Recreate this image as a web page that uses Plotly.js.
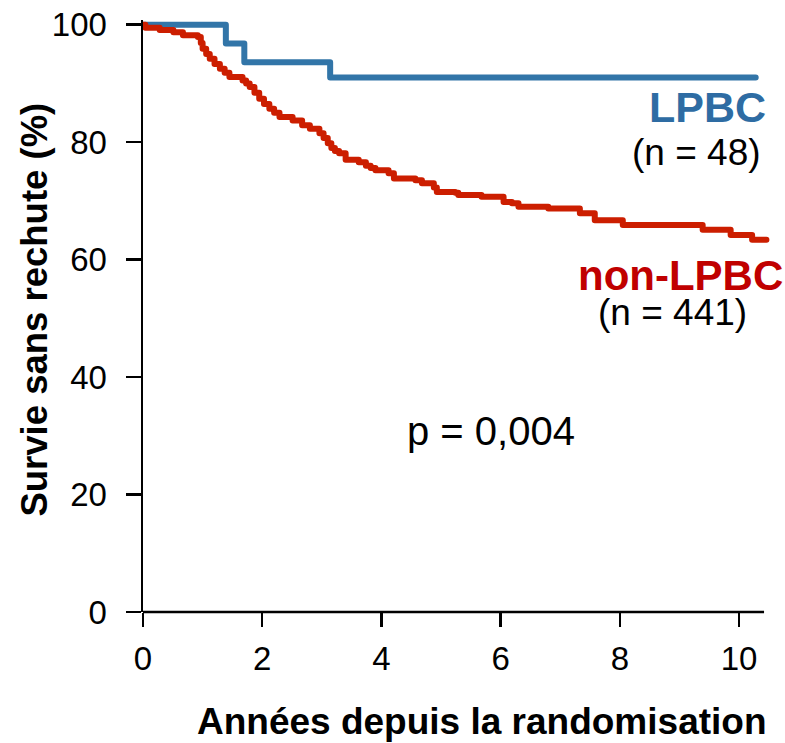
<!DOCTYPE html>
<html>
<head>
<meta charset="utf-8">
<script src="https://cdn.plot.ly/plotly-3.0.1.min.js"></script>
<style>
  html, body { margin: 0; padding: 0; background: #ffffff; }
  #chart { width: 785px; height: 743px; }
  /* smooth the corners of the survival steps */
  #chart .scatterlayer path.js-line { stroke-linejoin: round !important; stroke-linecap: round !important; }
</style>
</head>
<body>
<div id="chart"></div>
<script>
// Kaplan-Meier relapse-free survival, step points (years, % surviving)
const lpbcYears = [0, 1.39, 1.70, 3.14, 10.28];
const lpbcSurv  = [100, 96.8, 93.6, 91.0, 91.0];

const nonLpbcYears = [0, 0.04, 0.28, 0.51, 0.67, 0.92, 0.97, 1.00, 1.06, 1.12, 1.20, 1.29, 1.37, 1.45,
  1.67, 1.73, 1.79, 1.87, 1.95, 2.03, 2.12, 2.20, 2.29, 2.51, 2.67, 2.80, 2.96, 3.03, 3.10, 3.16, 3.22,
  3.29, 3.40, 3.62, 3.74, 3.82, 3.90, 4.12, 4.21, 4.57, 4.68, 4.88, 4.93, 5.24, 5.29, 5.68, 6.05, 6.19,
  6.30, 6.80, 7.33, 7.58, 8.05, 9.39, 9.86, 10.22, 10.46];
const nonLpbcSurv  = [100, 99.5, 99.1, 98.7, 98.2, 97.9, 96.9, 95.9, 95.0, 94.2, 93.3, 92.5, 91.8, 91.1,
  90.5, 90.0, 89.4, 88.4, 87.4, 86.5, 85.7, 85.0, 84.3, 83.7, 82.9, 82.3, 81.5, 80.7, 79.8, 79.0, 78.5,
  78.1, 77.0, 76.6, 76.0, 75.6, 75.2, 74.7, 73.8, 73.5, 73.0, 72.3, 71.5, 71.4, 71.0, 70.7, 69.8, 69.6,
  69.0, 68.7, 67.9, 66.7, 65.9, 65.1, 64.2, 63.4, 63.4];

const xTicks = [0, 2, 4, 6, 8, 10];
const yTicks = [0, 20, 40, 60, 80, 100];

const groupNames = ['LPBC', 'non-LPBC'];
const groupCounts = [48, 441];
const pValueText = 'p = 0,004';
const xTitle = 'Années depuis la randomisation';
const yTitle = 'Survie sans rechute (%)';

const blue = '#3275a8';
const red = '#cc1e00';
const FONT = '"Liberation Sans", Arial, Helvetica, sans-serif';

const xMax = 10.52;      // plotted range
const xAxisEnd = 10.42;  // where the drawn axis line stops

const traces = [
  {
    x: lpbcYears, y: lpbcSurv, type: 'scatter', mode: 'lines',
    line: { shape: 'hv', color: blue, width: 6 },
    name: groupNames[0], hoverinfo: 'x+y'
  },
  {
    x: nonLpbcYears, y: nonLpbcSurv, type: 'scatter', mode: 'lines',
    line: { shape: 'hv', color: red, width: 6 },
    name: groupNames[1], hoverinfo: 'x+y'
  }
];

const layout = {
  width: 785, height: 743,
  margin: { l: 143, r: 785 - 143 - 626.8, t: 19.6, b: 130.7 },
  paper_bgcolor: '#ffffff', plot_bgcolor: '#ffffff',
  showlegend: false,
  font: { family: FONT, color: '#000000' },
  xaxis: {
    range: [0, xMax], showgrid: false, zeroline: false, showline: false,
    tickmode: 'array', tickvals: xTicks, ticktext: xTicks.map(String),
    ticks: 'outside', ticklen: 14, tickwidth: 2.5, tickcolor: '#000000',
    ticklabelstandoff: 3,
    tickfont: { family: FONT, size: 33, color: '#000000' }
  },
  yaxis: {
    range: [0, 100.8], showgrid: false, zeroline: false,
    showline: true, linewidth: 2.5, linecolor: '#000000',
    tickmode: 'array', tickvals: yTicks, ticktext: yTicks.map(String),
    ticks: 'outside', ticklen: 15, tickwidth: 2.5, tickcolor: '#000000',
    ticklabelstandoff: 12,
    tickfont: { family: FONT, size: 33, color: '#000000' }
  },
  shapes: [
    { type: 'line', xref: 'paper', yref: 'paper',
      x0: 0, x1: xAxisEnd / xMax, y0: 0, y1: 0,
      line: { color: '#000000', width: 2.5 } }
  ],
  annotations: [
    // axis titles
    { text: '<b>' + xTitle + '</b>', x: 0.540, y: -0.1853, xref: 'paper', yref: 'paper',
      xanchor: 'center', yanchor: 'middle', showarrow: false,
      font: { family: FONT, size: 37, color: '#000000' } },
    { text: '<b>' + yTitle + '</b>', x: -0.1731, y: 0.5117, xref: 'paper', yref: 'paper',
      textangle: -90, xanchor: 'center', yanchor: 'middle', showarrow: false,
      font: { family: FONT, size: 36.5, color: '#000000' } },
    // group labels
    { text: '<b>' + groupNames[0] + '</b>', x: 0.9971, y: 86.0, xref: 'paper', yref: 'y',
      xanchor: 'right', yanchor: 'middle', showarrow: false,
      font: { family: FONT, size: 43, color: '#2e6ca3' } },
    { text: '(n = ' + groupCounts[0] + ')', x: 0.9891, y: 78.3, xref: 'paper', yref: 'y',
      xanchor: 'right', yanchor: 'middle', showarrow: false,
      font: { family: FONT, size: 37, color: '#000000' } },
    { text: '<b>' + groupNames[1] + '</b>', x: 1.0226, y: 57.35, xref: 'paper', yref: 'y',
      xanchor: 'right', yanchor: 'middle', showarrow: false, borderpad: 0,
      font: { family: FONT, size: 42, color: '#c00000' } },
    { text: '(n = ' + groupCounts[1] + ')', x: 0.9652, y: 50.95, xref: 'paper', yref: 'y',
      xanchor: 'right', yanchor: 'middle', showarrow: false, borderpad: 0,
      font: { family: FONT, size: 37, color: '#000000' } },
    // log-rank p value
    { text: pValueText, x: 0.5544, y: 30.75, xref: 'paper', yref: 'y',
      xanchor: 'center', yanchor: 'middle', showarrow: false,
      font: { family: FONT, size: 40, color: '#000000' } }
  ]
};

Plotly.newPlot('chart', traces, layout, { staticPlot: true, displayModeBar: false });
</script>
</body>
</html>
